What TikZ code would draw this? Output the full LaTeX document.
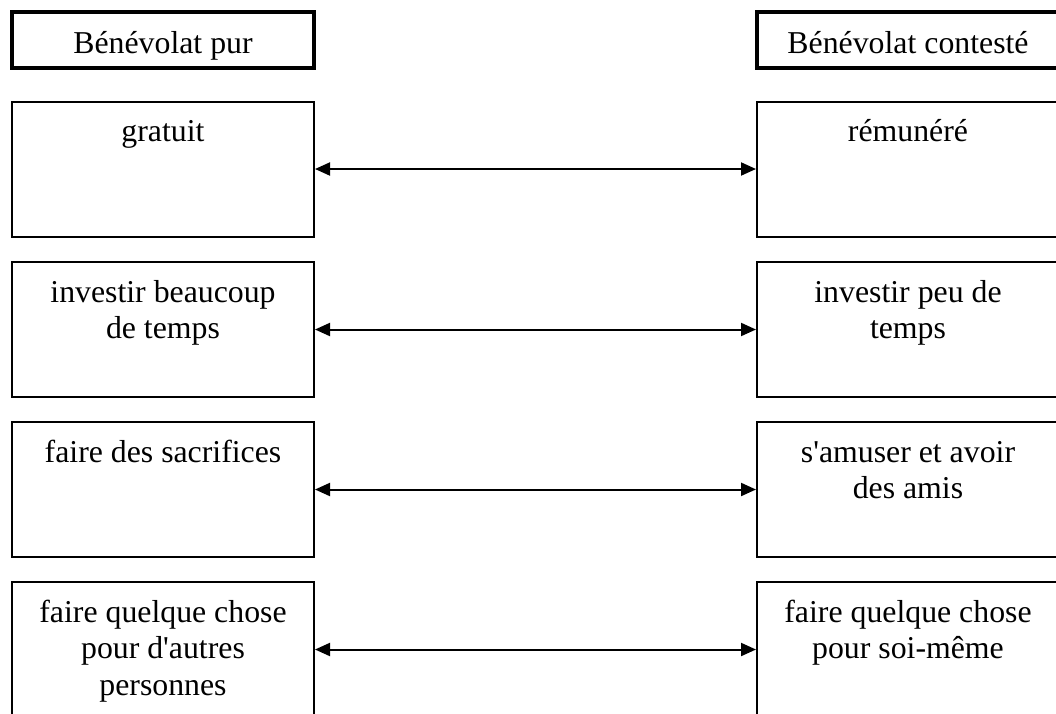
\documentclass[tikz,border=0pt]{standalone}
\usepackage{fontspec}
\setmainfont{Liberation Serif}
\usetikzlibrary{arrows.meta}
\tikzset{
  headbox/.style={draw=black, line width=3.6pt, minimum width=302pt, minimum height=56pt, inner sep=0pt,
    text height=30pt, text depth=4pt, font=\fontsize{31.8}{36.6}\selectfont},
  cellbox/.style={draw=black, line width=2pt, minimum width=302pt, minimum height=135pt, inner sep=0pt},
  celltext/.style={anchor=north, align=center, inner sep=0pt, font=\fontsize{31.8}{36.6}\selectfont},
  link/.style={line width=2pt, {Triangle[length=15pt,width=13pt]}-{Triangle[length=15pt,width=13pt]}}
}
\begin{document}
\begin{tikzpicture}[x=1pt,y=-1pt]
\useasboundingbox (0,0) rectangle (1056,713);
\clip (0,0) rectangle (1056,713);
% headers
\node[headbox] (hl) at (163,40) {Bénévolat pur};
\node[headbox] (hr) at (908,40) {Bénévolat contesté};
% rows
\foreach \i/\yc in {1/169, 2/329.5, 3/489.5, 4/649.5}{
  \node[cellbox] (L\i) at (163,\yc) {};
  \node[cellbox] (R\i) at (908,\yc) {};
  \draw[link] (L\i.east) -- (R\i.west);
}
\node[celltext] (L1t) at ([yshift=-15.4pt]L1.north) {\strut gratuit};
\node[celltext] (R1t) at ([yshift=-15.4pt]R1.north) {\strut rémunéré};
\node[celltext] (L2t) at ([yshift=-15.4pt]L2.north) {\strut investir beaucoup\\de temps};
\node[celltext] (R2t) at ([yshift=-15.4pt]R2.north) {\strut investir peu de\\temps};
\node[celltext] (L3t) at ([yshift=-15.4pt]L3.north) {\strut faire des sacrifices};
\node[celltext] (R3t) at ([yshift=-15.4pt]R3.north) {\strut s\textquotesingle amuser et avoir\\des amis};
\node[celltext] (L4t) at ([yshift=-15.4pt]L4.north) {\strut faire quelque chose\\pour d\textquotesingle autres\\personnes};
\node[celltext] (R4t) at ([yshift=-15.4pt]R4.north) {\strut faire quelque chose\\pour soi-même};
\end{tikzpicture}
\end{document}
